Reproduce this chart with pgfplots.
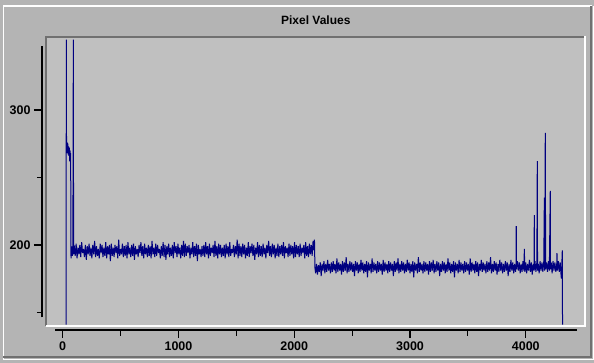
\documentclass[border=0pt]{standalone}
\usepackage{pgfplots}
\pgfplotsset{compat=1.18}
\usepackage{fontspec}
\setmainfont{Liberation Sans}
\definecolor{bgout}{RGB}{180,180,180}
\definecolor{bgplot}{RGB}{192,192,192}
\definecolor{bevdark}{RGB}{112,112,112}
\definecolor{navyline}{RGB}{0,0,128}
\begin{document}
\begin{tikzpicture}[x=1pt,y=1pt]
\useasboundingbox (0,0) rectangle (594,363);
\fill[bgout] (0,0) rectangle (594,363);
% outer etched frame
\draw[white,line width=1.5pt] (3.3,3.5) -- (3.3,357.2) -- (592,357.2);
\draw[bevdark,line width=1.8pt] (3.3,6) -- (590.6,6) -- (590.6,357.2);
\draw[white,line width=1.2pt] (3.3,3.2) -- (593.2,3.2) -- (593.2,357.2);
% plot area
\fill[bgplot] (45,36) rectangle (586,327);
\draw[bevdark,line width=2pt] (45.8,36.5) -- (45.8,326) -- (585.5,326);
\draw[white,line width=2pt] (45.8,37) -- (585,37) -- (585,326.5);
\node[font=\fontsize{12}{14}\selectfont\bfseries] at (315.8,342.3) {Pixel Values};
% data
\begin{axis}[at={(47pt,38pt)},anchor=south west,scale only axis,
  width=537pt,height=287pt,
  xmin=-135.7,xmax=4505.6,ymin=140.7,ymax=353.3,hide axis]
\addplot[navyline,line width=1pt,line join=bevel] coordinates {
(30,141) (31,352) (33,274) (36,268) (39,276) (42,270) (45,275) (48,267) (51,273) (54,266)
(57,272) (60,262) (63,270) (66,265) (69,268) (71,196) (72,190) (78,199) (84,192) (88,198)
(92,352) (94,193) (96,200)
(100,199) (108,192) (116,201) (124,190) (132,198) (140,193) (148,200) (156,191) (164,202) (172,194) (180,197) (188,191) (196,200) (204,189) (212,199) (220,193) (228,201) (236,192) (244,198) (252,190)
(260,200) (268,193) (276,203) (284,191) (292,199) (300,192) (308,197) (316,190) (324,201) (332,194) (340,200) (348,191) (356,198) (364,192) (372,202) (380,190) (388,199) (396,193) (404,200) (412,188)
(420,201) (428,192) (436,198) (444,191) (452,200) (460,194) (468,199) (476,190) (484,204) (492,192) (500,197) (508,193) (516,201) (524,191) (532,199) (540,192) (548,200) (556,190) (564,202) (572,193)
(580,198) (588,191) (596,200) (604,192) (612,201) (620,189) (628,199) (636,193) (644,197) (652,191) (660,200) (668,194) (676,202) (684,192) (692,199) (700,190) (708,201) (716,193) (724,198) (732,191)
(740,200) (748,192) (756,199) (764,190) (772,203) (780,193) (788,198) (796,191) (804,201) (812,192) (820,200) (828,194) (836,197) (844,190) (852,199) (860,192) (868,202) (876,191) (884,200) (892,189)
(900,199) (908,193) (916,201) (924,191) (932,198) (940,192) (948,200) (956,190) (964,202) (972,194) (980,199) (988,191) (996,201) (1004,193) (1012,198) (1020,190) (1028,200) (1036,192) (1044,203) (1052,191)
(1060,201) (1068,192) (1076,199) (1084,194) (1092,200) (1100,190) (1108,198) (1116,193) (1124,202) (1132,191) (1140,199) (1148,192) (1156,201) (1164,188) (1172,200) (1180,193) (1188,197) (1196,191) (1204,199) (1212,192)
(1220,200) (1228,191) (1236,202) (1244,193) (1252,199) (1260,190) (1268,201) (1276,192) (1284,198) (1292,194) (1300,200) (1308,191) (1316,203) (1324,192) (1332,199) (1340,190) (1348,201) (1356,193) (1364,200) (1372,191)
(1380,198) (1388,192) (1396,200) (1404,190) (1412,201) (1420,193) (1428,199) (1436,191) (1444,202) (1452,192) (1460,197) (1468,194) (1476,200) (1484,191) (1492,199) (1500,193) (1508,204) (1516,190) (1524,201) (1532,192)
(1540,199) (1548,191) (1556,201) (1564,193) (1572,200) (1580,190) (1588,198) (1596,192) (1604,202) (1612,191) (1620,199) (1628,194) (1636,201) (1644,192) (1652,200) (1660,189) (1668,198) (1676,193) (1684,202) (1692,191)
(1700,200) (1708,192) (1716,199) (1724,191) (1732,201) (1740,193) (1748,198) (1756,190) (1764,200) (1772,194) (1780,203) (1788,192) (1796,199) (1804,191) (1812,201) (1820,193) (1828,200) (1836,190) (1844,198) (1852,192)
(1860,201) (1868,191) (1876,199) (1884,193) (1892,200) (1900,192) (1908,202) (1916,190) (1924,199) (1932,194) (1940,198) (1948,191) (1956,201) (1964,192) (1972,200) (1980,193) (1988,199) (1996,190) (2004,202) (2012,191)
(2020,200) (2028,193) (2036,199) (2044,191) (2052,201) (2060,192) (2068,198) (2076,194) (2084,200) (2092,190) (2100,202) (2108,192) (2116,199) (2124,191) (2132,201) (2140,193) (2148,200) (2156,192) (2164,203) (2172,196)
(2176,204) (2180,183)
(2186,179) (2194,186) (2202,178) (2210,185) (2218,180) (2226,187) (2234,177) (2242,186) (2250,181) (2258,188) (2266,179) (2274,186) (2282,180) (2290,189) (2298,181) (2306,186) (2314,179) (2322,187) (2330,180) (2338,188)
(2346,181) (2354,186) (2362,179) (2370,190) (2378,180) (2386,187) (2394,181) (2402,186) (2410,178) (2418,188) (2426,180) (2434,187) (2442,181) (2450,191) (2458,179) (2466,186) (2474,180) (2482,188) (2490,181) (2498,187)
(2506,180) (2514,186) (2522,177) (2530,188) (2538,181) (2546,187) (2554,179) (2562,186) (2570,180) (2578,189) (2586,181) (2594,187) (2602,179) (2610,186) (2618,180) (2626,188) (2634,176) (2642,187) (2650,181) (2658,186)
(2666,179) (2674,190) (2682,180) (2690,187) (2698,181) (2706,186) (2714,179) (2722,188) (2730,180) (2738,187) (2746,181) (2754,186) (2762,178) (2770,189) (2778,180) (2786,187) (2794,181) (2802,186) (2810,179) (2818,188)
(2826,180) (2834,187) (2842,181) (2850,186) (2858,177) (2866,188) (2874,180) (2882,187) (2890,181) (2898,190) (2906,179) (2914,186) (2922,180) (2930,188) (2938,181) (2946,187) (2954,179) (2962,186) (2970,180) (2978,189)
(2986,181) (2994,187) (3002,179) (3010,186) (3018,180) (3026,188) (3034,176) (3042,187) (3050,181) (3058,186) (3066,179) (3074,191) (3082,180) (3090,187) (3098,181) (3106,186) (3114,179) (3122,188) (3130,180) (3138,187)
(3146,181) (3154,186) (3162,178) (3170,188) (3178,180) (3186,187) (3194,181) (3202,189) (3210,179) (3218,186) (3226,180) (3234,188) (3242,181) (3250,187) (3258,177) (3266,186) (3274,180) (3282,188) (3290,181) (3298,187)
(3306,179) (3314,186) (3322,180) (3330,190) (3338,181) (3346,187) (3354,179) (3362,186) (3370,180) (3378,188) (3386,176) (3394,187) (3402,181) (3410,186) (3418,179) (3426,189) (3434,180) (3442,187) (3450,181) (3458,186)
(3466,179) (3474,188) (3482,180) (3490,187) (3498,181) (3506,186) (3514,178) (3522,190) (3530,180) (3538,187) (3546,181) (3554,186) (3562,179) (3570,188) (3578,180) (3586,187) (3594,177) (3602,186) (3610,181) (3618,189)
(3626,180) (3634,187) (3642,181) (3650,186) (3658,179) (3666,188) (3674,180) (3682,187) (3690,181) (3698,191) (3706,179) (3714,186) (3722,180) (3730,188) (3738,181) (3746,187) (3754,178) (3762,186) (3770,180) (3778,189)
(3786,181) (3794,187) (3802,179) (3810,186) (3818,180) (3826,188) (3834,181) (3842,187) (3850,177) (3858,186) (3866,180) (3874,189) (3882,181) (3890,187) (3898,179) (3906,186) (3914,180) (3918,185) (3920,214) (3922,182) (3930,188) (3938,181)
(3946,187) (3954,179) (3962,186) (3970,180) (3978,188) (3986,181) (3990,197) (3994,180) (4002,187) (4010,179) (4018,186) (4026,181) (4034,189) (4042,180) (4050,187) (4058,178) (4066,186) (4074,181) (4076,222) (4078,182) (4082,188) (4090,180) (4098,187)
(4102,262) (4104,181) (4110,186) (4118,179) (4126,188) (4134,181) (4142,187) (4150,180) (4158,188) (4163,235) (4166,181) (4171,283) (4174,182) (4182,187) (4190,180) (4198,188) (4206,181) (4214,240) (4216,182) (4222,187)
(4230,179) (4238,188) (4246,181) (4254,187) (4262,180) (4270,186) (4272,194) (4276,181) (4284,188) (4292,180) (4300,187) (4306,179) (4310,175) (4314,186) (4318,196) (4320,141)
};
\end{axis}
% y axis
\begin{axis}[at={(42pt,45.7pt)},anchor=south west,scale only axis,
  width=20pt,height=271.6pt,xmin=0,xmax=1,ymin=146.4,ymax=347.6,
  axis y line=left,axis x line=none,
  axis line style={-,black,line width=1.2pt},
  ytick={200,300},minor ytick={150,250},
  tick align=outside,major tick length=8pt,minor tick length=5pt,
  every tick/.style={black,line width=1.2pt},
  every minor tick/.style={black,line width=1.2pt},
  ticklabel style={font=\fontsize{12.5}{14}\selectfont\bfseries},
  /pgf/number format/assume math mode=true]
\end{axis}
% x axis
\begin{axis}[at={(55pt,33pt)},anchor=south west,scale only axis,
  width=521.7pt,height=20pt,xmin=-66.5,xmax=4440,ymin=0,ymax=1,
  axis x line=bottom,axis y line=none,
  axis line style={-,black,line width=1.2pt},
  xtick={0,1000,2000,3000,4000},minor xtick={500,1500,2500,3500},
  tick align=outside,major tick length=8pt,minor tick length=6pt,
  every tick/.style={black,line width=1.2pt},
  every minor tick/.style={black,line width=1.2pt},
  scaled ticks=false,
  ticklabel style={font=\fontsize{12.5}{14}\selectfont\bfseries},
  /pgf/number format/1000 sep={},
  /pgf/number format/assume math mode=true]
\end{axis}
\end{tikzpicture}
\end{document}
